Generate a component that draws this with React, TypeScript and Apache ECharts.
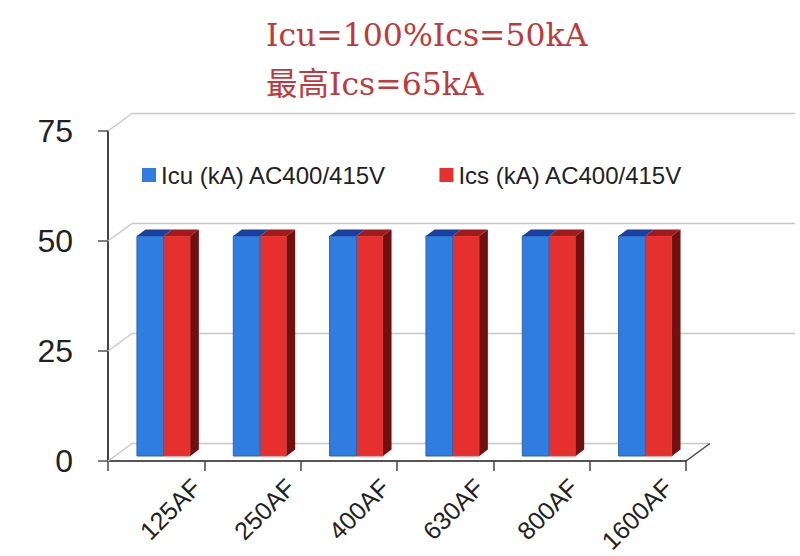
import React, { useEffect, useRef } from "react";
import * as echarts from "echarts";

const categories = ["125AF", "250AF", "400AF", "630AF", "800AF", "1600AF"];
const icuValues = [50, 50, 50, 50, 50, 50];
const icsValues = [50, 50, 50, 50, 50, 50];
const yTicks = [0, 25, 50, 75];
const titleText = "Icu=100%Ics=50kA\n最高Ics=65kA";
const icuName = "Icu (kA) AC400/415V";
const icsName = "Ics (kA) AC400/415V";

const BAR_W = 26.7;
const BAR_DX = 7.5;
const BAR_DY = -5;
const DEPTH_X = 8.5;
const DEPTH_Y = -6.5;
const WALL_X = 24;
const WALL_Y = -17.5;
const WALL_RIGHT = 795;

const barRender = (side: number, front: string, top: string, sideColor: string | null) => (_: any, api: any) => {
  const t = api.coord([api.value(0), api.value(1)]);
  const b = api.coord([api.value(0), 0]);
  const cx = t[0] + BAR_DX;
  const x0 = side < 0 ? cx - BAR_W : cx;
  const x1 = x0 + BAR_W;
  const y0 = t[1] + BAR_DY;
  const y1 = b[1] + BAR_DY;
  const children: any[] = [
    {
      type: "rect",
      shape: { x: x0, y: y0, width: BAR_W, height: y1 - y0 },
      style: { fill: front, stroke: side < 0 ? "#2a62ad" : "#e5403c", lineWidth: 1 },
    },
    {
      type: "polygon",
      shape: { points: [[x0, y0], [x0 + DEPTH_X, y0 + DEPTH_Y], [x1 + DEPTH_X, y0 + DEPTH_Y], [x1, y0]] },
      style: { fill: top },
    },
  ];
  if (sideColor) {
    children.push({
      type: "polygon",
      shape: { points: [[x1, y0], [x1 + DEPTH_X, y0 + DEPTH_Y], [x1 + DEPTH_X, y1 + DEPTH_Y], [x1, y1]] },
      style: { fill: sideColor },
    });
  }
  return { type: "group", children };
};

const wallRender = (_: any, api: any) => {
  const v = api.value(0);
  const p = api.coord([0, v]);
  const band = api.size([1, 0])[0];
  const xLeft = p[0] - band / 2;
  const xRightFloor = xLeft + band * categories.length;
  const bx = xLeft + WALL_X;
  const by = p[1] + WALL_Y;
  const gray = "#c8c8c8";
  const children: any[] = [
    { type: "line", shape: { x1: xLeft, y1: p[1], x2: bx, y2: by }, style: { stroke: gray, lineWidth: 1.5 } },
    { type: "line", shape: { x1: bx, y1: by, x2: v === 0 ? xRightFloor + WALL_X : WALL_RIGHT, y2: by }, style: { stroke: gray, lineWidth: 1.5 } },
  ];
  if (v === 0) {
    children.push({
      type: "line",
      shape: { x1: xRightFloor, y1: p[1], x2: xRightFloor + WALL_X, y2: by },
      style: { stroke: "#444", lineWidth: 1.5 },
    });
  }
  return { type: "group", children };
};

export default function App() {
  const ref = useRef<HTMLDivElement>(null);
  useEffect(() => {
    const chart = echarts.init(ref.current!, undefined, { renderer: "svg" });
    const rows = (vals: number[]) => vals.map((v, i) => [i, v]);
    chart.setOption({
      animation: false,
      backgroundColor: "#ffffff",
      title: {
        text: titleText,
        left: 261,
        top: 5,
        textStyle: {
          fontFamily: "'DejaVu Serif', 'Noto Sans CJK SC', serif",
          fontSize: 31.5,
          fontWeight: "normal",
          color: "#c03a3c",
          lineHeight: 49,
        },
      },
      legend: {
        left: 137,
        top: 158,
        itemWidth: 14,
        itemHeight: 14,
        itemGap: 53,
        icon: "rect",
        data: [icuName, icsName],
        textStyle: { fontFamily: "'Liberation Sans', Arial, sans-serif", fontSize: 24, color: "#222" },
      },
      grid: [
        { left: 108, top: 131, width: 578, height: 330 },
        { left: 149, top: 131, width: 566, height: 330, show: false },
      ],
      xAxis: [
        {
          type: "category",
          gridIndex: 0,
          data: categories,
          axisLine: { lineStyle: { color: "#555", width: 2 } },
          axisTick: { show: true, length: 10, interval: 0, lineStyle: { color: "#444", width: 1.5 } },
          axisLabel: { show: false },
          splitLine: { show: false },
        },
        {
          type: "category",
          gridIndex: 1,
          data: categories,
          axisLine: { show: false },
          axisTick: { show: false },
          axisLabel: {
            interval: 0,
            rotate: 45,
            margin: 31,
            fontFamily: "'Liberation Sans', Arial, sans-serif",
            fontSize: 25,
            color: "#222",
          },
        },
      ],
      yAxis: [
        {
          type: "value",
          gridIndex: 0,
          min: 0,
          max: 75,
          interval: 25,
          axisLine: { show: true, lineStyle: { color: "#444", width: 2 } },
          axisTick: { show: true, length: 10, lineStyle: { color: "#555", width: 1.5 } },
          axisLabel: {
            margin: 35,
            padding: [5, 0, 0, 0],
            fontFamily: "'Liberation Sans', Arial, sans-serif",
            fontSize: 32,
            color: "#222",
          },
          splitLine: { show: false },
        },
        { type: "value", gridIndex: 1, show: false, min: 0, max: 75, interval: 25 },
      ],
      series: [
        {
          type: "custom",
          name: "wall",
          coordinateSystem: "cartesian2d",
          clip: false,
          silent: true,
          z: 1,
          encode: { y: 0 },
          data: yTicks.map((v) => [v]),
          renderItem: wallRender,
        },
        {
          type: "custom",
          name: icuName,
          coordinateSystem: "cartesian2d",
          clip: false,
          z: 3,
          encode: { x: 0, y: 1 },
          itemStyle: { color: "#2f7de0" },
          data: rows(icuValues),
          renderItem: barRender(-1, "#2f7de0", "#1b3f9e", null),
        },
        {
          type: "custom",
          name: icsName,
          coordinateSystem: "cartesian2d",
          clip: false,
          z: 2,
          encode: { x: 0, y: 1 },
          itemStyle: { color: "#e5302e" },
          data: rows(icsValues),
          renderItem: barRender(1, "#e5302e", "#a01c1c", "#701010"),
        },
      ],
    });
    return () => chart.dispose();
  }, []);
  return <div ref={ref} style={{ position: "absolute", left: 0, top: 0, width: 800, height: 556 }} />;
}
